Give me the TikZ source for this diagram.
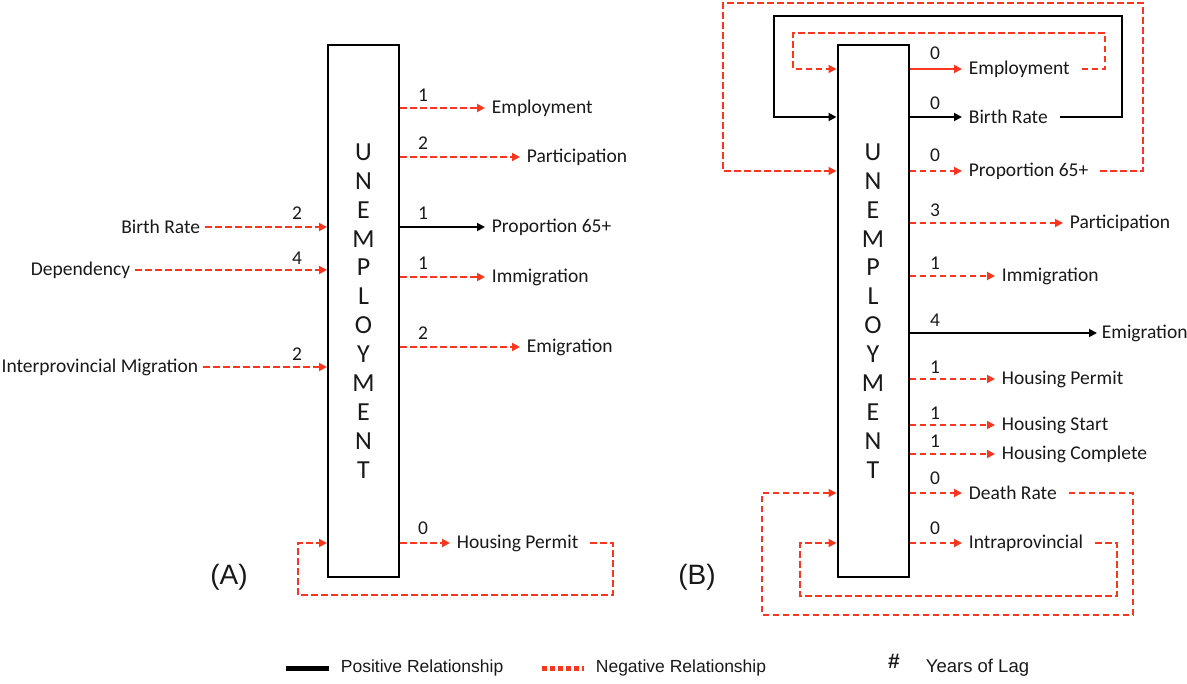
\documentclass[tikz,border=0pt]{standalone}
\usepackage{fontspec}
\setmainfont{Carlito}
\newfontfamily\legendfont{Liberation Sans}
\usetikzlibrary{arrows.meta}
\definecolor{negred}{RGB}{250,55,30}

\begin{document}
\begin{tikzpicture}[x = 1pt, y = -1pt, % one unit = one pixel, y downwards
                > = {Triangle[length = 8pt, width = 8pt]}, % arrow head style
                line width = 1.8pt
            ]

            \tikzstyle{every node}=[font = \fontsize{19.5}{22}\selectfont,
            text = black!90]
            \tikzstyle{unemp}=[draw = black, line width = 2pt, minimum width = 71pt,
            minimum height = 531pt, align = center, inner sep = 0pt,
            font = \fontsize{26}{28.9}\selectfont]
            \tikzstyle{outlbl}=[anchor = west, inner xsep = 6pt, inner ysep = 0pt]
            \tikzstyle{inlbl}=[anchor = east, inner xsep = 4pt, inner ysep = 0pt]
            \tikzstyle{lag}=[inner sep = 0pt]
            \tikzstyle{negrel}=[color = negred, dash pattern = on 6.5pt off 3.5pt]
            \tikzstyle{negsolid}=[color = negred]
            \tikzstyle{posrel}=[color = black]
            \tikzstyle{panel}=[font = \legendfont\fontsize{28}{30}\selectfont]
            \tikzstyle{lgd}=[anchor = west, inner sep = 0pt,
            font = \legendfont\fontsize{17.5}{20}\selectfont]

            \useasboundingbox (0,0) rectangle (1187,684);

            % panel (A)
            \node[unemp] (A) at (363.5,311) {U\\N\\E\\M\\P\\L\\O\\Y\\M\\E\\N\\T};

            \node[inlbl] (brA) at (205,227) {Birth Rate}; \node[inlbl] (depA) at
            (135,270) {Dependency}; \node[inlbl] (ipmA) at (203,367)
            {Interprovincial Migration};

            \node[outlbl] (empA) at (485,108) {Employment}; \node[outlbl] (parA) at
            (520,157) {Participation}; \node[outlbl] (propA) at (485,227)
            {Proportion 65+}; \node[outlbl] (immA) at (485,277) {Immigration};
            \node[outlbl] (emiA) at (520,347) {Emigration}; \node[outlbl] (hpA) at
            (450,543) {Housing Permit};

            \node[lag] at (297,213) {2}; \node[lag] at (297,258) {4};
            \node[lag] at (297,354) {2};
            \node[lag] at (423,95) {1}; \node[lag] at (423,143) {2};
            \node[lag] at (423,213) {1}; \node[lag] at (423,263) {1};
            \node[lag] at (423,333) {2}; \node[lag] at (423,528) {0};

            \path[negrel, ->] (brA.east) edge (A.west |- brA.east);
            \path[negrel, ->] (depA.east) edge (A.west |- depA.east);
            \path[negrel, ->] (ipmA.east) edge (A.west |- ipmA.east);

            \path[negrel, ->] (A.east |- empA.west) edge (empA.west);
            \path[negrel, ->] (A.east |- parA.west) edge (parA.west);
            \path[posrel, ->] (A.east |- propA.west) edge (propA.west);
            \path[negrel, ->] (A.east |- immA.west) edge (immA.west);
            \path[negrel, ->] (A.east |- emiA.west) edge (emiA.west);
            \path[negrel, ->] (A.east |- hpA.west) edge (hpA.west);

            \draw[negrel, ->] ([xshift=5pt]hpA.east) -- (613,543) |- (298,595)
            |- (A.west |- hpA.west);

            \node[panel] (labA) at (229,577) {(A)};

            % panel (B)
            \node[unemp] (B) at (873,311) {U\\N\\E\\M\\P\\L\\O\\Y\\M\\E\\N\\T};

            \node[outlbl] (empB) at (962,69) {Employment}; \node[outlbl] (brB) at
            (962,117) {Birth Rate}; \node[outlbl] (propB) at (962,171)
            {Proportion 65+}; \node[outlbl] (parB) at (1063,223) {Participation};
            \node[outlbl] (immB) at (995,276) {Immigration}; \node[outlbl] (emiB)
            [inner xsep = 4pt] at (1097,333) {Emigration}; \node[outlbl] (hpB) at
            (995,379) {Housing Permit}; \node[outlbl] (hsB) at (995,425) {Housing
            Start}; \node[outlbl] (hcB) at (995,454) {Housing Complete};
            \node[outlbl] (drB) at (962,493) {Death Rate}; \node[outlbl] (ipB) at
            (962,543) {Intraprovincial};

            \node[lag] at (935,53) {0}; \node[lag] at (935,103) {0};
            \node[lag] at (935,155) {0}; \node[lag] at (935,210) {3};
            \node[lag] at (935,263) {1}; \node[lag] at (935,320) {4};
            \node[lag] at (935,367) {1}; \node[lag] at (935,413) {1};
            \node[lag] at (935,441) {1}; \node[lag] at (935,478) {0};
            \node[lag] at (935,528) {0};

            \path[negsolid, ->] (B.east |- empB.west) edge (empB.west);
            \path[posrel, ->] (B.east |- brB.west) edge (brB.west);
            \path[negrel, ->] (B.east |- propB.west) edge (propB.west);
            \path[negrel, ->] (B.east |- parB.west) edge (parB.west);
            \path[negrel, ->] (B.east |- immB.west) edge (immB.west);
            \path[posrel, ->] (B.east |- emiB.west) edge (emiB.west);
            \path[negrel, ->] (B.east |- hpB.west) edge (hpB.west);
            \path[negrel, ->] (B.east |- hsB.west) edge (hsB.west);
            \path[negrel, ->] (B.east |- hcB.west) edge (hcB.west);
            \path[negrel, ->] (B.east |- drB.west) edge (drB.west);
            \path[negrel, ->] (B.east |- ipB.west) edge (ipB.west);

            % feedback loops
            \draw[negrel, ->] ([xshift=5pt]empB.east) -- (1105,69) |- (793,33)
            |- (B.west |- empB.west);
            \draw[posrel, ->] ([xshift=5pt]brB.east) -- (1122,117) |- (774,16)
            |- (B.west |- brB.west);
            \draw[negrel, ->] ([xshift=5pt]propB.east) -- (1143,171) |- (723,3)
            |- (B.west |- propB.west);
            \draw[negrel, ->] ([xshift=5pt]drB.east) -- (1133,493) |- (762,615)
            |- (B.west |- drB.west);
            \draw[negrel, ->] ([xshift=5pt]ipB.east) -- (1117,543) |- (800,596)
            |- (B.west |- ipB.west);

            \node[panel] (labB) at (697,577) {(B)};

            % legend
            \node[lgd] (posL) at (340,668) {Positive Relationship};
            \node[lgd] (negL) at (595,668) {Negative Relationship};
            \node[lgd, font = \legendfont\fontsize{18.5}{20}\selectfont] (lagL)
            at (925,668) {Years of Lag};
            \node[lgd, anchor = center, font = \legendfont\bfseries
            \fontsize{21}{23}\selectfont] (hashL) at (894,661) {\#};
            \draw[line width = 5pt] ([xshift=-54pt]posL.west) -- ++(43,0);
            \draw[negred, line width = 5pt, dash pattern = on 5pt off 3pt]
            ([xshift=-53pt]negL.west) -- ++(42,0);
        \end{tikzpicture}
\end{document}
